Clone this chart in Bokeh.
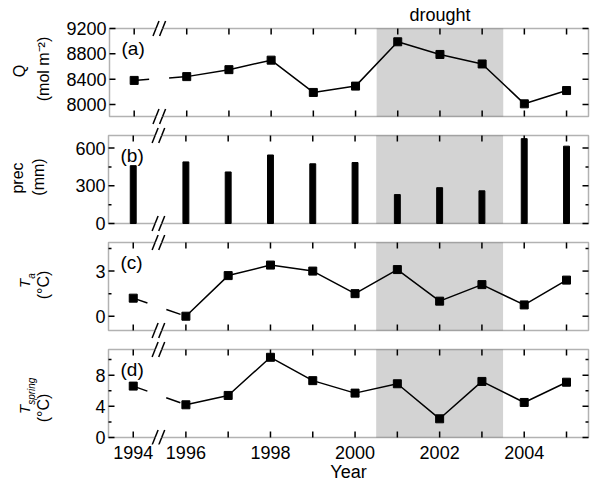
import math
from bokeh.plotting import figure
from bokeh.layouts import column, row
from bokeh.models import FixedTicker, LinearAxis, Range1d, BoxAnnotation, Label
from bokeh.embed import file_html
from bokeh.resources import INLINE

# ---------------- data ----------------
years = [1994, 1996, 1997, 1998, 1999, 2000, 2001, 2002, 2003, 2004, 2005]
Q = [8380, 8440, 8550, 8700, 8190, 8290, 8990, 8790, 8640, 8010, 8220]
prec = [460, 490, 410, 545, 475, 485, 230, 285, 260, 675, 615]
Ta = [1.2, 0.0, 2.7, 3.4, 3.0, 1.5, 3.1, 1.0, 2.1, 0.75, 2.4]
Tspring = [6.6, 4.2, 5.4, 10.3, 7.3, 5.7, 6.9, 2.4, 7.2, 4.5, 7.1]
drought_first, drought_last = 2001, 2003

q_range, q_ticks, q_minor = (7810, 9200), [8000, 8400, 8800, 9200], []
p_range, p_ticks, p_minor = (0, 700), [0, 300, 600], [150, 450]
t_range, t_ticks, t_minor = (-0.95, 4.9), [0, 3], [1.5, 4.5]
s_range, s_ticks, s_minor = (0, 11.3), [0, 4, 8], [2, 6, 10]

# ---------------- broken x axis ----------------
BREAK_AT = 1995
BREAK_GAP = 0.755          # part of the 1994-1996 span removed by the axis break
BREAK_MARK = 1995.35


def xpos(y):
    return y + BREAK_GAP if y < BREAK_AT else y


X = [xpos(y) for y in years]
x_overrides = {xpos(y): (str(y) if y % 2 == 0 else "") for y in years}
XR0, XR1 = 1994.17, 2005.52

# ---------------- geometry / style ----------------
FONT = "Liberation Sans"
LF_W = 63            # width of the y-title strip
MF_LEFT = 43         # room for the y tick labels
BOX_W, BOX_H = 480, 88
M = 2                # frame margin round the drawn box (px)
MF_W = MF_LEFT + BOX_W + 2 * M
PX = (XR1 - XR0) / BOX_W
x_frame = Range1d(XR0 - M * PX, XR1 + M * PX)
GRAY = "#d3d3d3"
LW = 1.5
SLASH_ANGLE = math.radians(68)


def panel(yrng, major, minor, e_top, e_bot, border_bot, tag, ylabels, xlabels=False):
    y0, y1 = yrng
    ppy = (y1 - y0) / BOX_H
    yr = Range1d(y0 - e_bot * ppy, y1 + e_top * ppy)
    h = e_top + BOX_H + e_bot + border_bot

    p = figure(width=MF_W, height=h, x_range=x_frame, y_range=yr,
               x_axis_type=None, y_axis_type=None,
               output_backend="svg", toolbar_location=None,
               min_border_left=MF_LEFT, min_border_right=0,
               min_border_top=0, min_border_bottom=border_bot)
    p.outline_line_color = None
    p.background_fill_color = "white"
    p.border_fill_color = "white"

    # y tick labels
    ay = LinearAxis(ticker=FixedTicker(ticks=major, minor_ticks=[]))
    ay.axis_line_color = None
    ay.major_tick_line_color = None
    ay.minor_tick_line_color = None
    ay.major_tick_in = 0
    ay.major_tick_out = 0
    ay.major_label_text_font = FONT
    ay.major_label_text_font_size = "18px"
    ay.major_label_text_color = "black"
    ay.major_label_standoff = 1
    p.add_layout(ay, "left")

    if xlabels:
        ax = LinearAxis(ticker=FixedTicker(ticks=X, minor_ticks=[]))
        ax.axis_line_color = None
        ax.major_tick_line_color = None
        ax.minor_tick_line_color = None
        ax.major_tick_in = 0
        ax.major_tick_out = 0
        ax.major_label_overrides = x_overrides
        ax.major_label_text_font = FONT
        ax.major_label_text_font_size = "18px"
        ax.major_label_text_color = "black"
        ax.major_label_standoff = 1
        ax.axis_label = "Year"
        ax.axis_label_text_font = FONT
        ax.axis_label_text_font_size = "18px"
        ax.axis_label_text_font_style = "normal"
        ax.axis_label_text_color = "black"
        ax.axis_label_standoff = 0
        p.add_layout(ax, "below")

    # drought shading and plot box (underneath the data)
    p.add_layout(BoxAnnotation(left=drought_first - 0.5, right=drought_last + 0.5,
                               bottom=y0, top=y1, fill_color=GRAY, fill_alpha=1,
                               line_alpha=0, level="underlay"))
    p.add_layout(BoxAnnotation(left=XR0, right=XR1, bottom=y0, top=y1,
                               fill_alpha=0, line_color="black", line_width=LW,
                               level="underlay"))

    # inward ticks on all four sides
    n = len(X)
    p.ray(x=X, y=[y1] * n, length=6, length_units="screen", angle=-math.pi / 2,
          line_color="black", line_width=LW)
    p.ray(x=X, y=[y0] * n, length=6, length_units="screen", angle=math.pi / 2,
          line_color="black", line_width=LW)
    for vals, ln in ((major, 6), (minor, 3)):
        if vals:
            p.ray(x=[XR0] * len(vals), y=vals, length=ln, length_units="screen",
                  angle=0, line_color="black", line_width=LW)
            p.ray(x=[XR1] * len(vals), y=vals, length=ln, length_units="screen",
                  angle=math.pi, line_color="black", line_width=LW)

    # axis-break marks  "//"  on the top and bottom edges
    for yy in (y0, y1):
        p.ray(x=[BREAK_MARK - 3.5 * PX], y=[yy], length=7, length_units="screen",
              angle=0, line_color="white", line_width=3.5)
        for dx in (-3.3, 3.3):
            for ang in (SLASH_ANGLE, SLASH_ANGLE + math.pi):
                p.ray(x=[BREAK_MARK + dx * PX], y=[yy], length=8,
                      length_units="screen", angle=ang,
                      line_color="black", line_width=LW)

    # panel tag
    p.add_layout(Label(x=XR0, y=y1, x_offset=12, y_offset=-20, text=tag,
                       text_font=FONT, text_font_size="19px", text_color="black",
                       text_baseline="middle", text_align="left"))

    # y-title strip
    lf = figure(width=LF_W, height=h, x_range=Range1d(0, 1), y_range=yr,
                x_axis_type=None, y_axis_type=None,
                output_backend="svg", toolbar_location=None,
                min_border_left=0, min_border_right=0,
                min_border_top=0, min_border_bottom=border_bot)
    lf.outline_line_color = None
    lf.background_fill_color = "white"
    lf.border_fill_color = "white"
    ymid = (y0 + y1) / 2
    for (txt, size, style, xo, yo, align, base) in ylabels:
        lf.add_layout(Label(x=1, y=ymid, x_offset=xo, y_offset=yo, text=txt,
                            angle=math.pi / 2, text_font=FONT,
                            text_font_size=size, text_font_style=style,
                            text_color="black",
                            text_align=align, text_baseline=base))
    return lf, p, y0, y1


def add_series(p, vals):
    p.line(X[:2], vals[:2], line_color="black", line_width=LW, line_dash="15 20")
    p.line(X[1:], vals[1:], line_color="black", line_width=LW)
    p.scatter(X, vals, marker="square", size=8, color="black")


la, pa, a0, a1 = panel(q_range, q_ticks, q_minor, 28, 9, 0, "(a)",
                       [("Q", "16px", "normal", -44, 1.5, "center", "middle"),
                        ("(mol m\u207b\u00b2)", "16px", "normal", -20, 3.5, "center", "middle")])
add_series(pa, Q)
pa.add_layout(Label(x=(drought_first + drought_last) / 2, y=a1, y_offset=14,
                    text="drought", text_font=FONT, text_font_size="18px",
                    text_color="black", text_align="center", text_baseline="middle"))

lb, pb, b0, b1 = panel(p_range, p_ticks, p_minor, 10, 11, 0, "(b)",
                       [("prec", "16px", "normal", -46, 1.5, "center", "middle"),
                        ("(mm)", "16px", "normal", -25, 2.5, "center", "middle")])
pb.vbar(x=X, top=prec, bottom=0, width=0.14, color="black")

lc, pc, c0, c1 = panel(t_range, t_ticks, t_minor, 8, 9, 0, "(c)",
                       [("T", "15px", "italic", -39, -1.5, "left", "alphabetic"),
                        ("a", "10px", "italic", -32, 7.7, "left", "alphabetic"),
                        ("(\u00b0C)", "16px", "normal", -20, 1.5, "center", "middle")])
add_series(pc, Ta)

ld, pd_, d0, d1 = panel(s_range, s_ticks, s_minor, 10, 7, 43, "(d)",
                        [("T", "15px", "italic", -39, -20.5, "left", "alphabetic"),
                         ("spring", "10px", "italic", -32, -11.3, "left", "alphabetic"),
                         ("(\u00b0C)", "16px", "normal", -20, -14.5, "center", "middle")],
                        xlabels=True)
add_series(pd_, Tspring)

layout = column(row(la, pa, spacing=0), row(lb, pb, spacing=0),
                row(lc, pc, spacing=0), row(ld, pd_, spacing=0), spacing=0)
open("out.html", "w").write(file_html(layout, INLINE))
